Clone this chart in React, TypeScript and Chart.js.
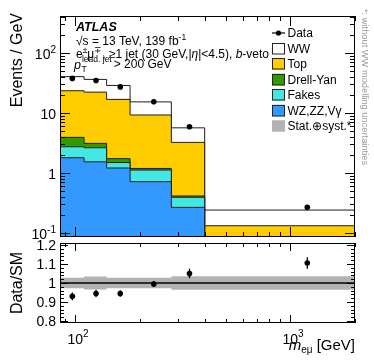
import React, { useEffect, useRef } from "react";
import { Chart, registerables } from "chart.js";

Chart.register(...registerables);

const FONT = '"Liberation Sans", Arial, Helvetica, sans-serif';

// ---------------- data ----------------
const binEdges = [85, 110, 140, 180, 280, 400, 2000];
const dibosonValues = [1.78, 1.52, 1.2, 0.71, 0.265, 0.03];
const fakesValues = [0.93, 1.09, 0.28, 0.4, 0.125, 0.01];
const drellYanValues = [1.18, 0.48, 0.24, 0.07, 0.02, 0.005];
const topValues = [19.4, 19.0, 15.0, 8.0, 2.8, 0.086];
const wwValues = [16.7, 13.9, 11.8, 6.0, 2.4, 0.108];

const dataMass = [97, 125, 162, 232, 340, 1200];
const dataValues = [37.4, 34.5, 27.0, 15.2, 5.85, 0.265];
const dataErrors = [0.9, 0.8, 0.6, 0.35, 0.2, 0.015];

const ratioValues = [0.93, 0.945, 0.945, 0.995, 1.05, 1.105];
const ratioErrors = [0.02, 0.02, 0.017, 0.015, 0.025, 0.03];
const bandHalfWidths = [0.027, 0.034, 0.027, 0.027, 0.036, 0.036];

const mainYDecades = [0.1, 1, 10, 100];
const mainYLabels = [["10", "-1"], ["1", ""], ["10", ""], ["10", "2"]];
const ratioYTicks = [0.8, 0.9, 1, 1.1, 1.2];
const ratioYLabels = ["0.8", "0.9", "1", "1.1", "1.2"];
const xMajorTicks = [100, 1000];
const xTickLabels = [["10", "2"], ["10", "3"]];
const xMinorTicks = [90, 200, 300, 400, 500, 600, 700, 800, 900, 2000];

const legendNames = ["Data", "WW", "Top", "Drell-Yan", "Fakes", "WZ,ZZ,V\u03b3", "Stat.\u2295syst.*"];
const legendColors = ["#000000", "#ffffff", "#ffcc00", "#339900", "#44e8e2", "#3399ff", "#b3b3b3"];

const X_MIN = 85, X_MAX = 2000;
const Y_MIN = 0.085, Y_MAX = 410;
const R_MIN = 0.79, R_MAX = 1.21;

// ---------------- helpers ----------------
const layers = [dibosonValues, fakesValues, drellYanValues, topValues, wwValues];
const cumulative: number[][] = [];
layers.forEach((l, k) => {
  cumulative.push(l.map((v, i) => v + (k > 0 ? cumulative[k - 1][i] : 0)));
});

const stepPoints = (vals: number[]) =>
  binEdges.map((e, i) => ({ x: e, y: vals[Math.min(i, vals.length - 1)] }));

type Run = { t: string; size: number; style?: string; weight?: string; dy?: number };
function font(r: Run) {
  return `${r.style || "normal"} ${r.weight || "normal"} ${r.size}px ${FONT}`;
}
function runsWidth(ctx: CanvasRenderingContext2D, runs: Run[]) {
  let w = 0;
  runs.forEach((r) => {
    ctx.font = font(r);
    w += ctx.measureText(r.t).width;
  });
  return w;
}
function drawRuns(ctx: CanvasRenderingContext2D, x: number, y: number, runs: Run[], align = "left") {
  const total = runsWidth(ctx, runs);
  let cx = align === "left" ? x : align === "right" ? x - total : x - total / 2;
  ctx.textAlign = "left";
  ctx.textBaseline = "alphabetic";
  runs.forEach((r) => {
    ctx.font = font(r);
    ctx.fillText(r.t, cx, y + (r.dy || 0));
    cx += ctx.measureText(r.t).width;
  });
  return cx;
}
function line(ctx: CanvasRenderingContext2D, x1: number, y1: number, x2: number, y2: number) {
  ctx.beginPath();
  ctx.moveTo(x1, y1);
  ctx.lineTo(x2, y2);
  ctx.stroke();
}

function drawXTicks(chart: any, major: number) {
  const { ctx, chartArea: a } = chart;
  const xs = chart.scales.x;
  const all = [...xMajorTicks.map((v) => [v, major]), ...xMinorTicks.map((v) => [v, major / 2])];
  all.forEach(([v, len]) => {
    if (v < X_MIN || v > X_MAX) return;
    const px = Math.round(xs.getPixelForValue(v)) + 0.5;
    line(ctx, px, a.bottom, px, a.bottom - len);
    line(ctx, px, a.top, px, a.top + len);
  });
}
function drawFrame(chart: any) {
  const { ctx, chartArea: a } = chart;
  ctx.strokeRect(a.left + 0.5, a.top + 0.5, a.right - a.left - 1, a.bottom - a.top - 1);
}

const mainAxesPlugin = {
  id: "mainAxes",
  afterDraw(chart: any) {
    const { ctx, chartArea: a } = chart;
    const ys = chart.scales.y;
    ctx.save();
    ctx.strokeStyle = "#000";
    ctx.fillStyle = "#000";
    ctx.lineWidth = 1;
    drawFrame(chart);
    // y ticks (log)
    for (let d = -2; d <= 3; d++) {
      for (let k = 1; k <= 9; k++) {
        const v = k * Math.pow(10, d);
        if (v < Y_MIN || v > Y_MAX) continue;
        const len = k === 1 ? 10 : 5;
        const py = Math.round(ys.getPixelForValue(v)) + 0.5;
        line(ctx, a.left, py, a.left + len, py);
        line(ctx, a.right, py, a.right - len, py);
      }
    }
    drawXTicks(chart, 10);
    // y labels
    mainYDecades.forEach((v, i) => {
      const py = ys.getPixelForValue(v);
      const [b, e] = mainYLabels[i];
      const runs: Run[] = [{ t: b, size: 14 }];
      if (e) runs.push({ t: e, size: 10, dy: -6 });
      drawRuns(ctx, 56, py + 6.5, runs, "right");
    });
    // y title
    ctx.save();
    ctx.translate(22, 13);
    ctx.rotate(-Math.PI / 2);
    ctx.font = `16px ${FONT}`;
    ctx.textAlign = "right";
    ctx.textBaseline = "alphabetic";
    ctx.fillText("Events / GeV", 0, 0);
    ctx.restore();

    // ATLAS label and info
    drawRuns(ctx, 76, 31, [{ t: "ATLAS", size: 12.5, style: "italic", weight: "bold" }]);
    drawRuns(ctx, 76, 45, [
      { t: "\u221as = 13 TeV, 139 fb", size: 12 },
      { t: "-1", size: 8.5, dy: -5 },
    ]);
    drawRuns(ctx, 76, 58, [
      { t: "e", size: 12 },
      { t: "\u00b1", size: 8.5, dy: -5 },
      { t: "\u03bc", size: 12 },
      { t: "\u2213", size: 8.5, dy: -5 },
      { t: ", \u22651 jet (30 GeV,|", size: 12 },
      { t: "\u03b7", size: 12, style: "italic" },
      { t: "|<4.5), ", size: 12 },
      { t: "b", size: 12, style: "italic" },
      { t: "-veto", size: 12 },
    ]);
    const px = drawRuns(ctx, 74, 69, [{ t: "p", size: 12.5, style: "italic" }]);
    const subEnd = drawRuns(ctx, px + 0.5, 72, [{ t: "T", size: 8.5 }]);
    const supEnd = drawRuns(ctx, px + 1, 62, [{ t: "lead. jet", size: 8.5 }]);
    drawRuns(ctx, Math.max(subEnd, supEnd) + 2, 68, [{ t: "> 200 GeV", size: 12 }]);

    // legend
    legendNames.forEach((name, i) => {
      const cy = 33 + 15.5 * i;
      const bx = 272, bw = 13, bh = 11.5;
      if (i === 0) {
        ctx.lineWidth = 1.2;
        line(ctx, bx, cy, bx + bw, cy);
        ctx.beginPath();
        ctx.arc(bx + bw / 2, cy, 2.6, 0, Math.PI * 2);
        ctx.fill();
        ctx.lineWidth = 1;
      } else {
        ctx.fillStyle = legendColors[i];
        ctx.fillRect(bx, cy - bh / 2, bw, bh);
        if (i < legendNames.length - 1) {
          ctx.strokeStyle = "#222";
          ctx.strokeRect(bx + 0.5, Math.round(cy - bh / 2) + 0.5, bw - 1, bh - 1);
        }
        ctx.fillStyle = "#000";
        ctx.strokeStyle = "#000";
      }
      drawRuns(ctx, 287.5, cy + 4.3, [{ t: name, size: 12 }]);
    });

    // vertical side note
    ctx.save();
    ctx.translate(361.5, 9);
    ctx.rotate(Math.PI / 2);
    ctx.fillStyle = "#9a9a9a";
    ctx.font = `9.3px ${FONT}`;
    ctx.textAlign = "left";
    ctx.fillText("*: without WW modelling uncertainties", 0, 0);
    ctx.restore();

    // data error bars
    const xs = chart.scales.x;
    ctx.lineWidth = 1.3;
    dataMass.forEach((m, i) => {
      const x0 = xs.getPixelForValue(m);
      line(ctx, x0, ys.getPixelForValue(dataValues[i] - dataErrors[i]), x0, ys.getPixelForValue(dataValues[i] + dataErrors[i]));
    });
    ctx.restore();
  },
};

const ratioAxesPlugin = {
  id: "ratioAxes",
  afterDraw(chart: any) {
    const { ctx, chartArea: a } = chart;
    const ys = chart.scales.y;
    const xs = chart.scales.x;
    ctx.save();
    ctx.strokeStyle = "#000";
    ctx.fillStyle = "#000";
    // error bars
    ctx.lineWidth = 1.3;
    dataMass.forEach((m, i) => {
      const x0 = xs.getPixelForValue(m);
      line(ctx, x0, ys.getPixelForValue(ratioValues[i] - ratioErrors[i]), x0, ys.getPixelForValue(ratioValues[i] + ratioErrors[i]));
    });
    ctx.lineWidth = 1;
    drawFrame(chart);
    for (let i = 0; i <= 25; i++) {
      const v = 0.76 + i * 0.02;
      if (v < R_MIN - 1e-9 || v > R_MAX + 1e-9) continue;
      const isMajor = Math.abs(v * 10 - Math.round(v * 10)) < 1e-6;
      const len = isMajor ? 8 : 4;
      const py = Math.round(ys.getPixelForValue(v)) + 0.5;
      line(ctx, a.left, py, a.left + len, py);
      line(ctx, a.right, py, a.right - len, py);
    }
    drawXTicks(chart, 8);
    ratioYTicks.forEach((v, i) => {
      const py = ys.getPixelForValue(v);
      drawRuns(ctx, 56, py + 5, [{ t: ratioYLabels[i], size: 14 }], "right");
    });
    xMajorTicks.forEach((v, i) => {
      const px = xs.getPixelForValue(v);
      ctx.font = `14px ${FONT}`;
      const w = ctx.measureText(xTickLabels[i][0]).width;
      drawRuns(ctx, px - w / 2, 344, [
        { t: xTickLabels[i][0], size: 14 },
        { t: xTickLabels[i][1], size: 10, dy: -7 },
      ]);
    });
    drawRuns(ctx, 355, 350, [
      { t: "m", size: 15, style: "italic" },
      { t: "e\u03bc", size: 10, dy: 3 },
      { t: " [GeV]", size: 15 },
    ], "right");
    ctx.save();
    ctx.translate(22, 283);
    ctx.rotate(-Math.PI / 2);
    ctx.font = `16px ${FONT}`;
    ctx.textAlign = "center";
    ctx.fillText("Data/SM", 0, 0);
    ctx.restore();
    ctx.restore();
  },
};

const histColors = ["#3399ff", "#44e8e2", "#339900", "#ffcc00", "#ffffff"];
const histNames = ["WZ,ZZ,V\u03b3", "Fakes", "Drell-Yan", "Top", "WW"];

export default function App() {
  const mainRef = useRef<HTMLCanvasElement>(null);
  const ratioRef = useRef<HTMLCanvasElement>(null);

  useEffect(() => {
    const histDatasets: any[] = cumulative.map((vals, k) => ({
      label: histNames[k],
      data: stepPoints(vals),
      stepped: true,
      fill: k === 0 ? "start" : "-1",
      backgroundColor: histColors[k],
      borderColor: "#1e1e1e",
      borderWidth: 1,
      pointRadius: 0,
      order: 0,
    }));
    histDatasets.push({
      label: "Data",
      data: dataMass.map((m, i) => ({ x: m, y: dataValues[i] })),
      showLine: false,
      pointRadius: 2.8,
      pointBackgroundColor: "#000",
      pointBorderColor: "#000",
      pointBorderWidth: 0,
      order: -1,
    });

    const common = {
      responsive: false,
      animation: false as const,
      events: [],
      plugins: { legend: { display: false }, tooltip: { enabled: false } },
    };

    const main = new Chart(mainRef.current!, {
      type: "line",
      data: { datasets: histDatasets },
      options: {
        ...common,
        layout: { padding: { left: 60, right: 19, top: 16, bottom: 363 - 237 } },
        scales: {
          x: { type: "logarithmic", min: X_MIN, max: X_MAX, display: false },
          y: { type: "logarithmic", min: Y_MIN, max: Y_MAX, display: false },
        },
      } as any,
      plugins: [mainAxesPlugin],
    });

    const bandLow = bandHalfWidths.map((h) => 1 - h);
    const bandHigh = bandHalfWidths.map((h) => 1 + h);
    const ratio = new Chart(ratioRef.current!, {
      type: "line",
      data: {
        datasets: [
          { data: stepPoints(bandLow), stepped: true, fill: false, borderColor: "rgba(0,0,0,0)", borderWidth: 0, pointRadius: 0, order: 2 },
          { data: stepPoints(bandHigh), stepped: true, fill: "-1", backgroundColor: "#b3b3b3", borderColor: "rgba(0,0,0,0)", borderWidth: 0, pointRadius: 0, order: 1 },
          { data: [{ x: X_MIN, y: 1 }, { x: X_MAX, y: 1 }], borderColor: "#000", borderWidth: 1.5, pointRadius: 0, fill: false, order: 0 },
          {
            data: dataMass.map((m, i) => ({ x: m, y: ratioValues[i] })),
            showLine: false,
            pointRadius: 2.8,
            pointBackgroundColor: "#000",
            pointBorderColor: "#000",
            pointBorderWidth: 0,
            order: -1,
          },
        ] as any,
      },
      options: {
        ...common,
        layout: { padding: { left: 60, right: 19, top: 243, bottom: 363 - 323 } },
        scales: {
          x: { type: "logarithmic", min: X_MIN, max: X_MAX, display: false },
          y: { type: "linear", min: R_MIN, max: R_MAX, display: false },
        },
      } as any,
      plugins: [ratioAxesPlugin],
    });

    return () => {
      main.destroy();
      ratio.destroy();
    };
  }, []);

  const cs: React.CSSProperties = { position: "absolute", left: 0, top: 0, width: 374, height: 363 };
  return (
    <div style={{ position: "absolute", left: 0, top: 0, width: 374, height: 363, background: "#fff" }}>
      <canvas ref={mainRef} width={374} height={363} style={cs} />
      <canvas ref={ratioRef} width={374} height={363} style={cs} />
    </div>
  );
}
